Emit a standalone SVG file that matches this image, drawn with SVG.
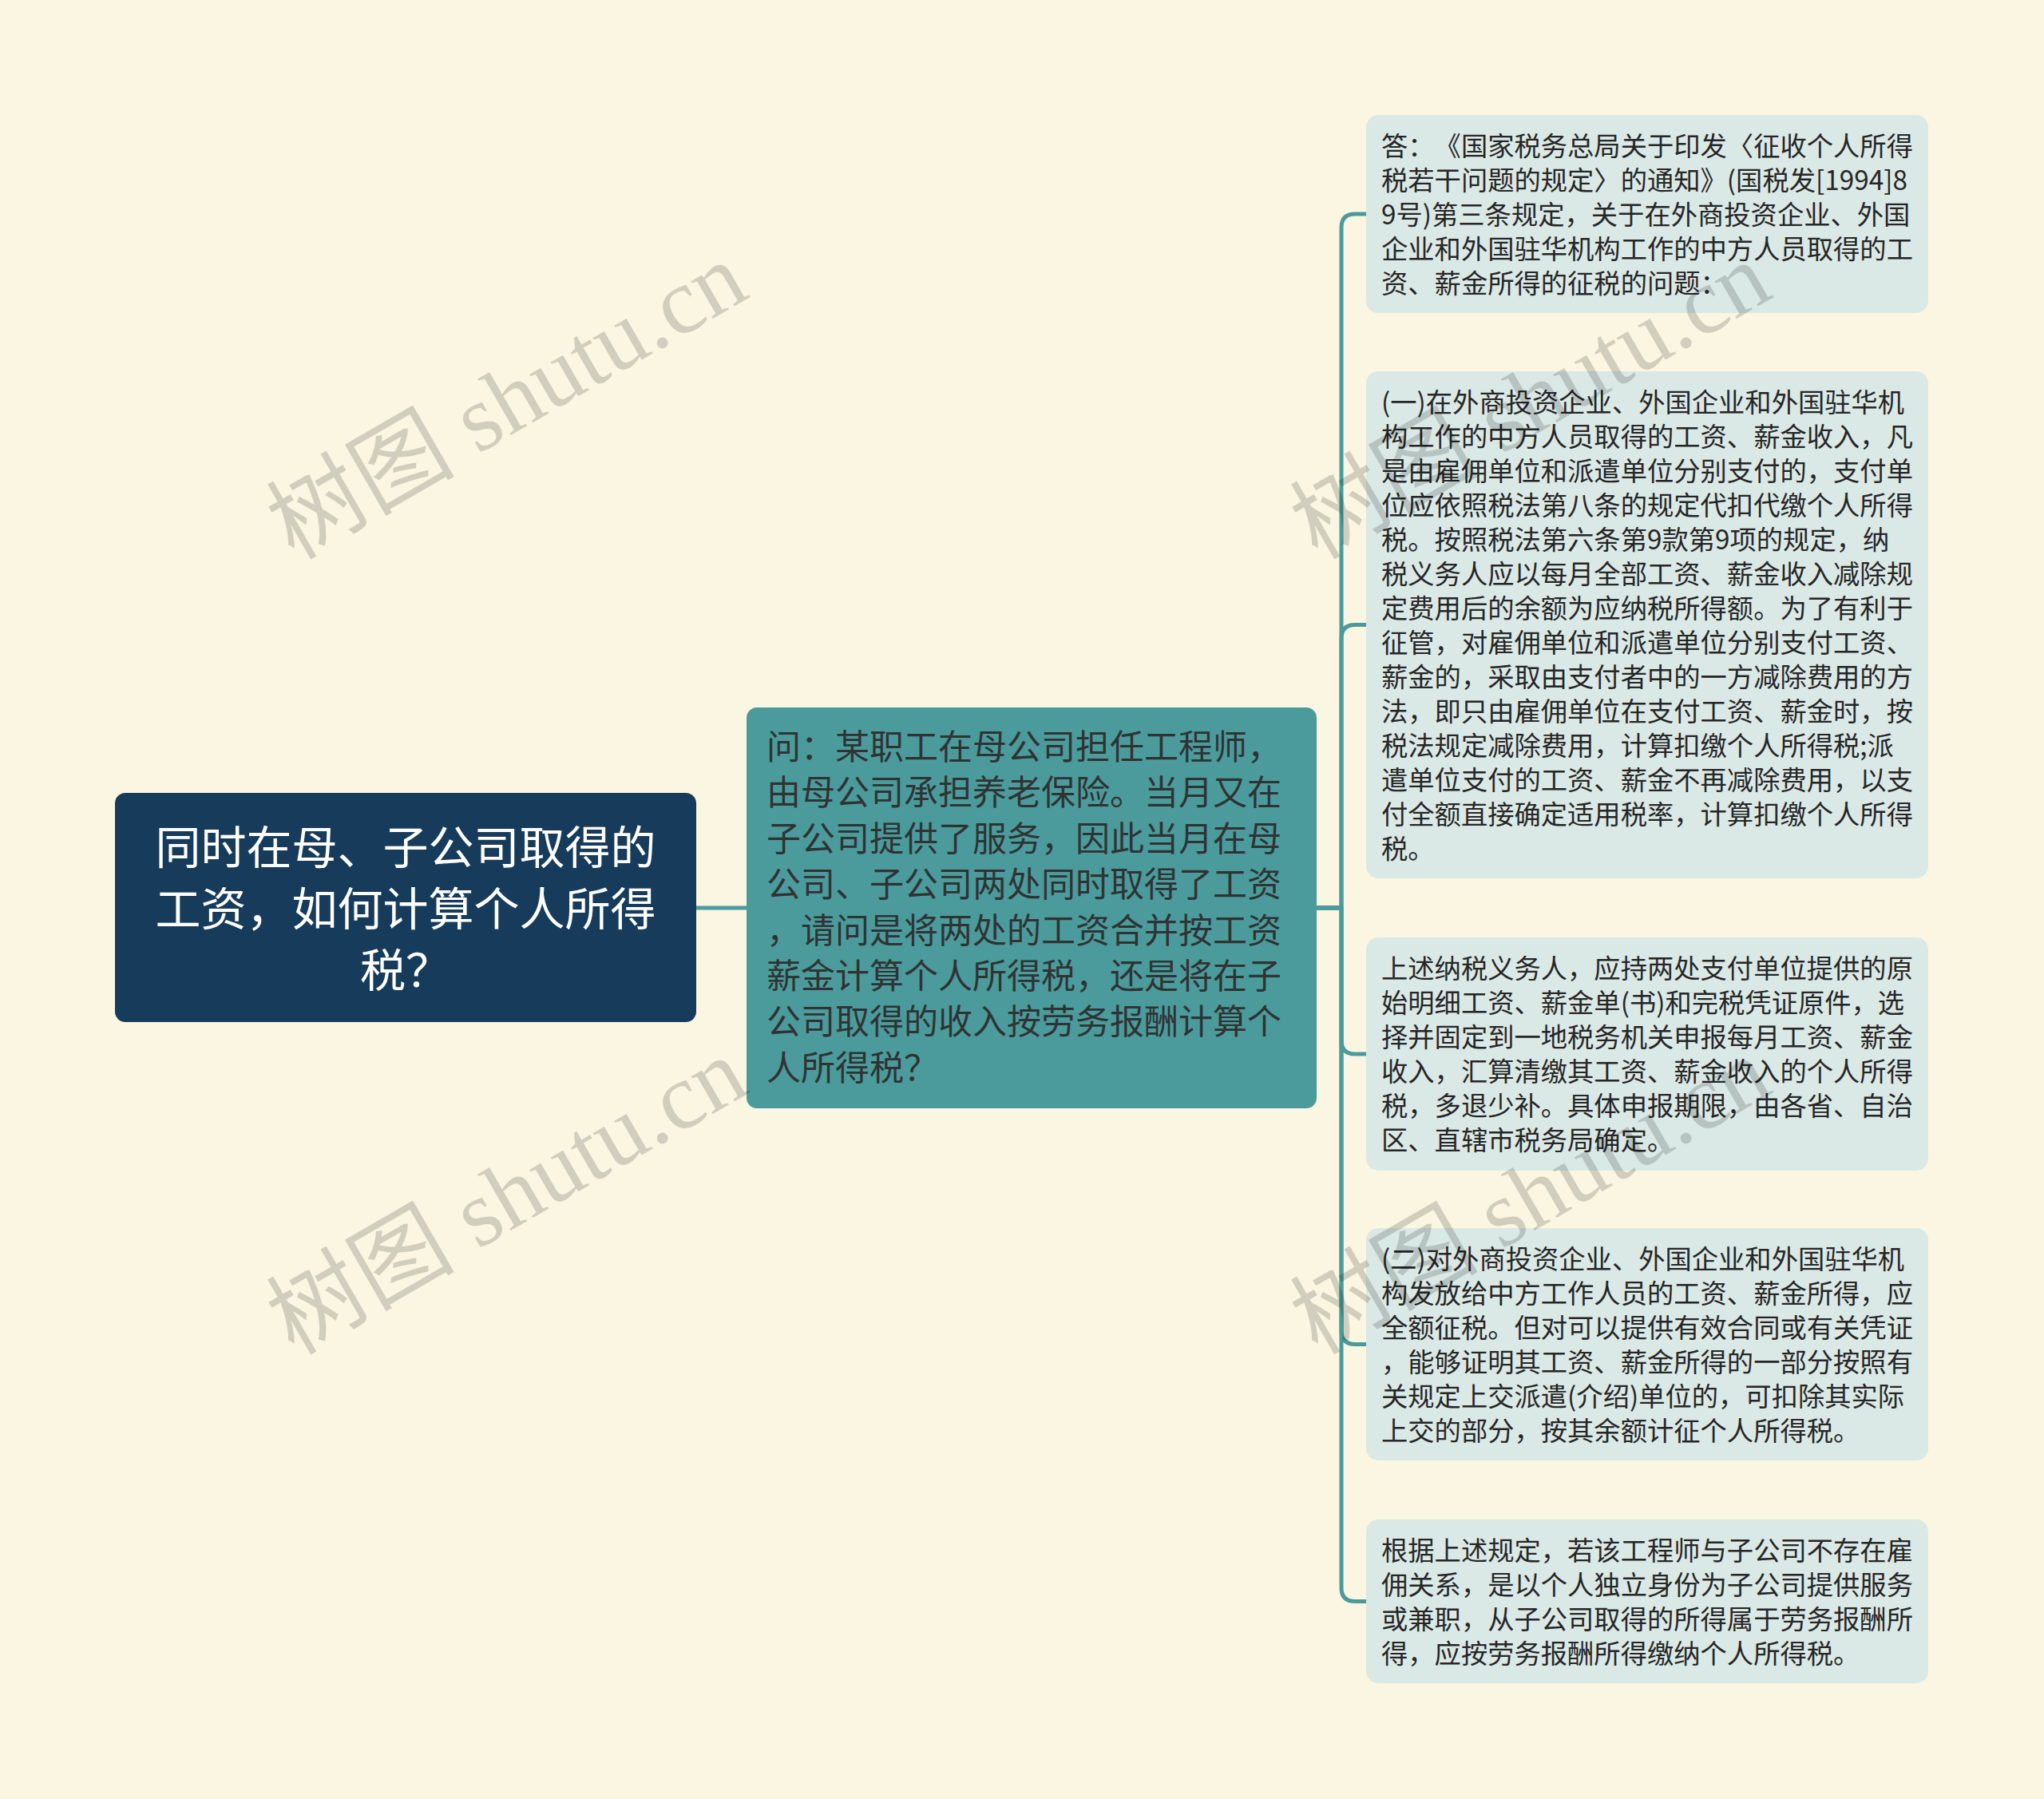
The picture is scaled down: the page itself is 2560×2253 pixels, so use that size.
<svg xmlns="http://www.w3.org/2000/svg" width="2560" height="2253" viewBox="0 0 2560 2253">
<style>
.bg{fill:#faf6e2}
.root-box{fill:#173c5b}
.mid-box{fill:#4b9b9c}
.leaf-box{fill:#dbe9e6}
.conn{fill:none;stroke:#4b9b9c;stroke-width:5;stroke-linecap:round;stroke-linejoin:round}
.t{font-family:"Noto Sans CJK SC","Noto Sans",sans-serif;text-spacing-trim:space-all}
.root-t{fill:#ffffff;font-size:57px;text-anchor:middle}
.mid-t{fill:#2f3333;font-size:43px}
.leaf-t{fill:#262626;font-size:33.3px}
.wm{font-family:"Liberation Serif","Noto Sans CJK SC",serif;font-size:118px;fill:#000;fill-opacity:0.16}
</style>
<rect class="bg" x="0" y="0" width="2560" height="2253"/>
<g id="connectors">
<path class="conn" d="M872,1137 H935"/>
<path class="conn" d="M1649,1137 H1680 V285 Q1680,268 1697,268 H1711"/>
<path class="conn" d="M1649,1137 H1680 V799.5 Q1680,782.5 1697,782.5 H1711"/>
<path class="conn" d="M1649,1137 H1680 V1303 Q1680,1320 1697,1320 H1711"/>
<path class="conn" d="M1649,1137 H1680 V1666.5 Q1680,1683.5 1697,1683.5 H1711"/>
<path class="conn" d="M1649,1137 H1680 V1988.5 Q1680,2005.5 1697,2005.5 H1711"/>
</g>
<g id="root">
<rect class="root-box" x="144" y="993" width="728" height="287" rx="13"/>
<text class="t root-t"><tspan x="508" y="1082">同时在母、子公司取得的</tspan><tspan x="508" y="1159">工资，如何计算个人所得</tspan><tspan x="508" y="1236">税？</tspan></text>
</g>
<g id="question">
<rect class="mid-box" x="935" y="886" width="714" height="502" rx="13"/>
<text class="t mid-t"><tspan x="960" y="951">问：某职工在母公司担任工程师，</tspan><tspan x="960" y="1008.4">由母公司承担养老保险。当月又在</tspan><tspan x="960" y="1065.8">子公司提供了服务，因此当月在母</tspan><tspan x="960" y="1123.2">公司、子公司两处同时取得了工资</tspan><tspan x="960" y="1180.6">，请问是将两处的工资合并按工资</tspan><tspan x="960" y="1238">薪金计算个人所得税，还是将在子</tspan><tspan x="960" y="1295.4">公司取得的收入按劳务报酬计算个</tspan><tspan x="960" y="1352.8">人所得税？</tspan></text>
</g>
<g id="answer1">
<rect class="leaf-box" x="1711" y="144" width="704" height="248" rx="15"/>
<text class="t leaf-t"><tspan x="1730" y="194.5">答：《国家税务总局关于印发〈征收个人所得</tspan><tspan x="1730" y="237.5">税若干问题的规定〉的通知》(国税发[1994]8</tspan><tspan x="1730" y="280.5">9号)第三条规定，关于在外商投资企业、外国</tspan><tspan x="1730" y="323.5">企业和外国驻华机构工作的中方人员取得的工</tspan><tspan x="1730" y="366.5">资、薪金所得的征税的问题：</tspan></text>
</g>
<g id="answer2">
<rect class="leaf-box" x="1711" y="465" width="704" height="635" rx="15"/>
<text class="t leaf-t"><tspan x="1730" y="515.5">(一)在外商投资企业、外国企业和外国驻华机</tspan><tspan x="1730" y="558.5">构工作的中方人员取得的工资、薪金收入，凡</tspan><tspan x="1730" y="601.5">是由雇佣单位和派遣单位分别支付的，支付单</tspan><tspan x="1730" y="644.5">位应依照税法第八条的规定代扣代缴个人所得</tspan><tspan x="1730" y="687.5">税。按照税法第六条第9款第9项的规定，纳</tspan><tspan x="1730" y="730.5">税义务人应以每月全部工资、薪金收入减除规</tspan><tspan x="1730" y="773.5">定费用后的余额为应纳税所得额。为了有利于</tspan><tspan x="1730" y="816.5">征管，对雇佣单位和派遣单位分别支付工资、</tspan><tspan x="1730" y="859.5">薪金的，采取由支付者中的一方减除费用的方</tspan><tspan x="1730" y="902.5">法，即只由雇佣单位在支付工资、薪金时，按</tspan><tspan x="1730" y="945.5">税法规定减除费用，计算扣缴个人所得税;派</tspan><tspan x="1730" y="988.5">遣单位支付的工资、薪金不再减除费用，以支</tspan><tspan x="1730" y="1031.5">付全额直接确定适用税率，计算扣缴个人所得</tspan><tspan x="1730" y="1074.5">税。</tspan></text>
</g>
<g id="answer3">
<rect class="leaf-box" x="1711" y="1174" width="704" height="292" rx="15"/>
<text class="t leaf-t"><tspan x="1730" y="1225">上述纳税义务人，应持两处支付单位提供的原</tspan><tspan x="1730" y="1268">始明细工资、薪金单(书)和完税凭证原件，选</tspan><tspan x="1730" y="1311">择并固定到一地税务机关申报每月工资、薪金</tspan><tspan x="1730" y="1354">收入，汇算清缴其工资、薪金收入的个人所得</tspan><tspan x="1730" y="1397">税，多退少补。具体申报期限，由各省、自治</tspan><tspan x="1730" y="1440">区、直辖市税务局确定。</tspan></text>
</g>
<g id="answer4">
<rect class="leaf-box" x="1711" y="1538" width="704" height="291" rx="15"/>
<text class="t leaf-t"><tspan x="1730" y="1588.5">(二)对外商投资企业、外国企业和外国驻华机</tspan><tspan x="1730" y="1631.5">构发放给中方工作人员的工资、薪金所得，应</tspan><tspan x="1730" y="1674.5">全额征税。但对可以提供有效合同或有关凭证</tspan><tspan x="1730" y="1717.5">，能够证明其工资、薪金所得的一部分按照有</tspan><tspan x="1730" y="1760.5">关规定上交派遣(介绍)单位的，可扣除其实际</tspan><tspan x="1730" y="1803.5">上交的部分，按其余额计征个人所得税。</tspan></text>
</g>
<g id="answer5">
<rect class="leaf-box" x="1711" y="1903" width="704" height="205" rx="15"/>
<text class="t leaf-t"><tspan x="1730" y="1953.5">根据上述规定，若该工程师与子公司不存在雇</tspan><tspan x="1730" y="1996.5">佣关系，是以个人独立身份为子公司提供服务</tspan><tspan x="1730" y="2039.5">或兼职，从子公司取得的所得属于劳务报酬所</tspan><tspan x="1730" y="2082.5">得，应按劳务报酬所得缴纳个人所得税。</tspan></text>
</g>
<g id="watermarks">
<text class="wm" x="368" y="702" transform="rotate(-30 368 702)">树图 shutu.cn</text>
<text class="wm" x="368" y="1698" transform="rotate(-30 368 1698)">树图 shutu.cn</text>
<text class="wm" x="1650" y="702" transform="rotate(-30 1650 702)">树图 shutu.cn</text>
<text class="wm" x="1650" y="1698" transform="rotate(-30 1650 1698)">树图 shutu.cn</text>
</g>
</svg>
